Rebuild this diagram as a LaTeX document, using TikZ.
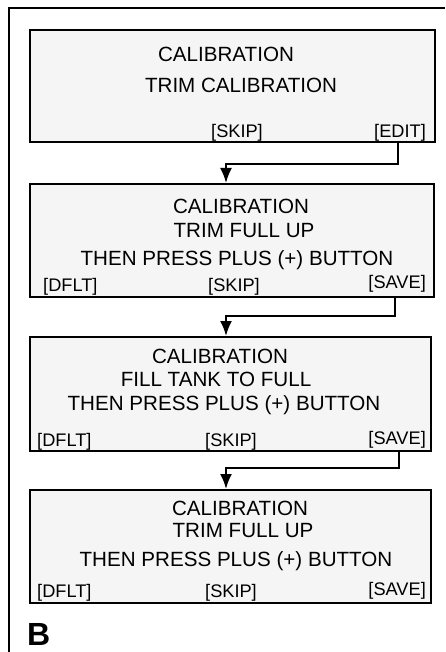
\documentclass[tikz,border=0pt]{standalone}
\usepackage{fontspec}
\setmainfont{Liberation Sans}
\usetikzlibrary{arrows.meta}

\begin{document}
\begin{tikzpicture}[x=1pt,y=-1pt]
    % Styles for screens, labels and lines
    \tikzset{
      screen/.style={rectangle, draw=black, line width=2pt, fill=black!4, inner sep=0pt},
      line/.style={anchor=base, inner sep=0pt, font=\fontsize{20.6}{24}\selectfont},
      key/.style={inner sep=0pt, font=\fontsize{18.2}{22}\selectfont},
      arrow/.style={line width=2pt, -{Latex[length=15pt,width=12pt]}}
    }
    \useasboundingbox (0,0) rectangle (445,652);

    % Outer frame
    \draw[line width=2pt] (9,652) -- (9,8) -- (445,8);

    % Screens with explicit coordinates
    \node[screen, minimum width=405pt, minimum height=112pt] (scrA) at (232.5,86) {};
    \node[screen, minimum width=404pt, minimum height=113pt] (scrB) at (232,240.5) {};
    \node[screen, minimum width=401pt, minimum height=114pt] (scrC) at (230.5,394) {};
    \node[screen, minimum width=401pt, minimum height=113pt] (scrD) at (230.5,546.5) {};

    % Texts of screen A
    \node[line] (titleA) at (226,61.5) {CALIBRATION};
    \node[line] (trimA) at (241,93) {TRIM CALIBRATION};
    \node[key, anchor=base] (skipA) at (237,138) {[SKIP]};
    \node[key, anchor=base east] (editA) at (426,138) {[EDIT]};

    % Texts of screen B
    \node[line] (titleB) at (241,214) {CALIBRATION};
    \node[line] (trimB) at (244,237) {TRIM FULL UP};
    \node[line] (pressB) at (237,265) {THEN PRESS PLUS (+) BUTTON};
    \node[key, anchor=base west] (dfltB) at (43,291) {[DFLT]};
    \node[key, anchor=base] (skipB) at (234,291) {[SKIP]};
    \node[key, anchor=base east] (saveB) at (426,288) {[SAVE]};

    % Texts of screen C
    \node[line] (titleC) at (220,363) {CALIBRATION};
    \node[line] (fillC) at (216,386) {FILL TANK TO FULL};
    \node[line] (pressC) at (224,410) {THEN PRESS PLUS (+) BUTTON};
    \node[key, anchor=base west] (dfltC) at (37,446) {[DFLT]};
    \node[key, anchor=base] (skipC) at (231,446) {[SKIP]};
    \node[key, anchor=base east] (saveC) at (426,444) {[SAVE]};

    % Texts of screen D
    \node[line] (titleD) at (240,515) {CALIBRATION};
    \node[line] (trimD) at (243,537) {TRIM FULL UP};
    \node[line] (pressD) at (236,566) {THEN PRESS PLUS (+) BUTTON};
    \node[key, anchor=base west] (dfltD) at (37,597) {[DFLT]};
    \node[key, anchor=base] (skipD) at (231,597) {[SKIP]};
    \node[key, anchor=base east] (saveD) at (426,595) {[SAVE]};

    \node[anchor=base west, inner sep=0pt, font=\fontsize{32}{36}\selectfont\bfseries] (tag) at (27,645) {B};

    % Arrows between screens
    \draw[arrow] ([xshift=-2pt]editA.south |- scrA.south) -- ++(0,21) -| ([xshift=-6pt]scrB.north);
    \draw[arrow] ([xshift=-2pt]saveB.south |- scrB.south) -- ++(0,18) -| ([xshift=-4.5pt]scrC.north);
    \draw[arrow] ([xshift=2pt]saveC.south |- scrC.south) -- ++(0,16) -| ([xshift=-4.5pt]scrD.north);

\end{tikzpicture}
\end{document}
